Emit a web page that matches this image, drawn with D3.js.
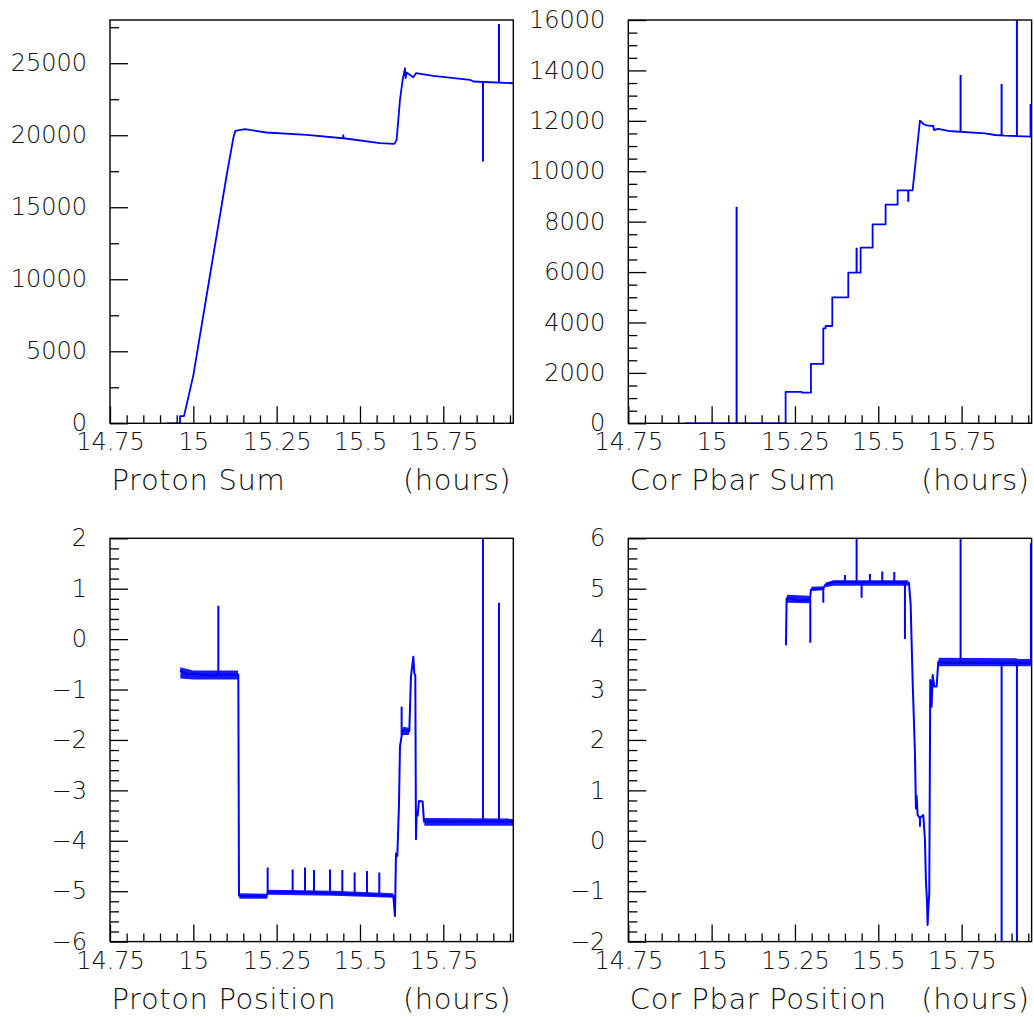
<!DOCTYPE html>
<html>
<head>
<meta charset="utf-8">
<script src="https://cdn.jsdelivr.net/npm/d3@7"></script>
<style>
  body { margin: 0; background: #fff; }
  svg text { font-family: 'DejaVu Sans', sans-serif; font-weight: 200; fill: #111; }
  .tick line { stroke: #000; stroke-width: 1.3; }
  .domain { display: none; }
</style>
</head>
<body>
<div id="chart"></div>
<script>
// data: [hours, value]
const xTicks = [14.75, 15, 15.25, 15.5, 15.75];
const titles = ['Proton Sum', 'Cor Pbar Sum', 'Proton Position', 'Cor Pbar Position'];

const protonSum = [
  [14.92, 0], [14.96, 0], [14.96, 500], [14.972, 500], [14.976, 900], [15.0, 3330],
  [15.012, 5000], [15.05, 10280], [15.1, 17220], [15.12, 19800], [15.126, 20300],
  [15.155, 20420], [15.22, 20190], [15.34, 20020], [15.449, 19790], [15.45, 20000],
  [15.451, 19790], [15.56, 19450], [15.603, 19400], [15.61, 19680], [15.62, 22450],
  [15.628, 23850], [15.635, 24650], [15.637, 23960], [15.64, 24350], [15.66, 24030],
  [15.668, 24310], [15.72, 24120], [15.83, 23850], [15.84, 23730], [15.96, 23610]
];
const protonSumSpikes = [[15.869, 23730, 18170], [15.917, 23650, 27730]];

const corPbarSum = [
  [14.92, 0], [15.222, 0], [15.222, 1243], [15.27, 1243], [15.271, 1216], [15.298, 1216],
  [15.298, 2354], [15.335, 2354], [15.335, 3769], [15.342, 3769], [15.342, 3860],
  [15.362, 3860], [15.362, 4998], [15.41, 4998], [15.41, 5977], [15.447, 5977],
  [15.447, 6968], [15.483, 6968], [15.483, 7894], [15.522, 7894], [15.522, 8674],
  [15.558, 8674], [15.558, 9243], [15.603, 9243], [15.625, 12006], [15.635, 11874],
  [15.645, 11821], [15.665, 11795], [15.667, 11636], [15.68, 11676], [15.71, 11597],
  [15.82, 11504], [15.85, 11438], [15.88, 11411], [15.96, 11372]
];
const corPbarSumSpikes = [
  [15.075, 0, 8595], [15.435, 5977, 6968], [15.59, 9243, 8793], [15.747, 11585, 13818],
  [15.87, 11420, 13461], [15.916, 11380, 16500], [15.957, 11372, 12667]
];

const protonPosition = [
  [14.96, -0.62], [14.98, -0.70], [15.0, -0.68], [15.05, -0.72], [15.1, -0.70],
  [15.135, -0.70], [15.137, -5.09], [15.22, -5.10], [15.223, -5.02], [15.3, -5.01],
  [15.42, -5.04], [15.52, -5.07], [15.6, -5.09], [15.605, -5.49], [15.608, -4.25],
  [15.612, -4.30], [15.617, -3.29], [15.62, -2.13], [15.628, -1.80], [15.648, -1.83],
  [15.653, -0.74], [15.66, -0.35], [15.663, -0.68], [15.666, -0.72], [15.668, -3.97],
  [15.67, -3.45], [15.673, -3.50], [15.677, -3.21], [15.688, -3.22], [15.692, -3.62],
  [15.96, -3.62]
];
const protonPositionSpikes = [
  [15.075, -0.70, 0.66], [15.223, -5.02, -4.53], [15.298, -5.01, -4.57],
  [15.335, -5.02, -4.53], [15.362, -5.03, -4.58], [15.41, -5.04, -4.57],
  [15.447, -5.05, -4.58], [15.484, -5.06, -4.63], [15.521, -5.07, -4.60],
  [15.558, -5.08, -4.63], [15.625, -1.90, -1.34], [15.869, -3.62, 2.3],
  [15.917, -3.62, 0.72]
];
// noisy plateaus: [hours, low, high]
const protonPositionNoise = [
  [[14.961, -0.78, -0.56], [15.0, -0.80, -0.62], [15.134, -0.80, -0.62]],
  [[15.138, -5.15, -5.04], [15.222, -5.15, -5.05]],
  [[15.224, -5.07, -4.97], [15.42, -5.09, -4.99], [15.6, -5.13, -5.04]],
  [[15.629, -1.90, -1.74], [15.647, -1.90, -1.76]],
  [[15.693, -3.70, -3.55], [15.96, -3.70, -3.56]]
];

const corPbarPosition = [
  [15.223, 3.88], [15.225, 4.81], [15.24, 4.80], [15.26, 4.76], [15.28, 4.77],
  [15.295, 4.78], [15.298, 4.98], [15.335, 5.0], [15.34, 5.07], [15.365, 5.14],
  [15.45, 5.13], [15.55, 5.13], [15.592, 5.12], [15.597, 4.71], [15.603, 3.19],
  [15.61, 1.74], [15.613, 0.64], [15.615, 0.89], [15.618, 0.51], [15.625, 0.45],
  [15.635, 0.51], [15.64, 0.02], [15.643, -0.81], [15.646, -1.17], [15.648, -1.67],
  [15.65, -1.37], [15.653, -1.04], [15.656, 3.19], [15.66, 2.66], [15.663, 3.29],
  [15.668, 3.06], [15.675, 3.06], [15.68, 3.55], [15.7, 3.53], [15.958, 3.53]
];
const corPbarPositionSpikes = [
  [15.296, 4.78, 3.93], [15.335, 5.0, 4.72], [15.40, 5.13, 5.27], [15.435, 5.13, 6.3],
  [15.45, 5.13, 4.82], [15.475, 5.13, 5.29], [15.512, 5.13, 5.34], [15.548, 5.13, 5.33],
  [15.58, 5.12, 4.0], [15.625, 0.48, 0.28], [15.747, 3.53, 6.3], [15.87, 3.53, -2.3],
  [15.916, 3.53, -2.3], [15.958, 3.53, 5.9]
];
const corPbarPositionNoise = [
  [[15.226, 4.72, 4.88], [15.294, 4.71, 4.86]],
  [[15.299, 4.96, 5.04], [15.334, 4.97, 5.05]],
  [[15.341, 5.03, 5.12], [15.366, 5.06, 5.17], [15.59, 5.06, 5.17]],
  [[15.681, 3.46, 3.63], [15.958, 3.46, 3.62]]
];

const yTicks = [
  [0, 5000, 10000, 15000, 20000, 25000],
  [0, 2000, 4000, 6000, 8000, 10000, 12000, 14000, 16000],
  [-6, -5, -4, -3, -2, -1, 0, 1, 2],
  [-2, -1, 0, 1, 2, 3, 4, 5, 6]
];

// chart setup
const W = 1034, H = 1017;
const size = 403.3;
const svg = d3.select('#chart').append('svg').attr('width', W).attr('height', H);

const panels = [
  { left: 110, top: 20, yDomain: [0, 28000], minor: 2500, series: protonSum, spikes: protonSumSpikes, noise: [], lw: 1.8 },
  { left: 628.3, top: 20, yDomain: [0, 16000], minor: 500, series: corPbarSum, spikes: corPbarSumSpikes, noise: [], lw: 1.8 },
  { left: 110, top: 538.3, yDomain: [-6, 2], minor: 0.2, series: protonPosition, spikes: protonPositionSpikes, noise: protonPositionNoise, lw: 2 },
  { left: 628.3, top: 538.3, yDomain: [-2, 6], minor: 0.2, series: corPbarPosition, spikes: corPbarPositionSpikes, noise: corPbarPositionNoise, lw: 2 }
];

const fmt = d => (d < 0 ? '\u2212' + Math.abs(d) : String(d));

panels.forEach((p, i) => drawPanel(p, i));

function drawPanel(p, i) {
  const x = d3.scaleLinear().domain([14.75, 15.96]).range([0, size]);
  const y = d3.scaleLinear().domain(p.yDomain).range([size, 0]);
  const g = svg.append('g').attr('transform', `translate(${p.left}, ${p.top})`);

  g.append('clipPath').attr('id', 'clip' + i)
    .append('rect').attr('width', size).attr('height', size);

  // minor ticks
  const xMinor = d3.range(14.8, 15.96, 0.05).filter(v => Math.abs(((v - 14.75) / 0.25) - Math.round((v - 14.75) / 0.25)) > 0.01);
  g.append('g').attr('transform', `translate(0, ${size})`)
    .call(d3.axisBottom(x).tickValues(xMinor).tickSizeInner(-8).tickSizeOuter(0).tickFormat(''));
  const [y0, y1] = p.yDomain;
  const yMinor = d3.range(y0, y1 + p.minor / 2, p.minor).filter(v => !yTicks[i].some(t => Math.abs(t - v) < p.minor / 10));
  g.append('g')
    .call(d3.axisLeft(y).tickValues(yMinor).tickSizeInner(-9).tickSizeOuter(0).tickFormat(''));

  // major ticks with labels
  g.append('g').attr('class', 'x-axis').attr('transform', `translate(0, ${size})`)
    .call(d3.axisBottom(x).tickValues(xTicks).tickSizeInner(-17).tickSizeOuter(0).tickPadding(10).tickFormat(d => d))
    .selectAll('text').style('font-size', '24px');
  g.append('g').attr('class', 'y-axis')
    .call(d3.axisLeft(y).tickValues(yTicks[i]).tickSizeInner(-18).tickSizeOuter(0).tickPadding(23).tickFormat(fmt))
    .selectAll('text').style('font-size', '24px');

  // data
  const plot = g.append('g').attr('clip-path', `url(#clip${i})`);
  plot.selectAll('path.noise')
    .data(p.noise)
    .enter().append('path')
    .attr('class', 'noise')
    .attr('fill', '#0000ff')
    .attr('fill-opacity', 0.9)
    .attr('d', d3.area().x(d => x(d[0])).y0(d => y(d[1])).y1(d => y(d[2])));
  plot.append('path')
    .datum(p.series)
    .attr('fill', 'none')
    .attr('stroke', '#0000ff')
    .attr('stroke-width', p.lw)
    .attr('stroke-linejoin', 'round')
    .attr('d', d3.line().x(d => x(d[0])).y(d => y(d[1])));
  plot.selectAll('line.spike')
    .data(p.spikes)
    .enter().append('line')
    .attr('class', 'spike')
    .attr('x1', d => x(d[0])).attr('x2', d => x(d[0]))
    .attr('y1', d => y(d[1])).attr('y2', d => y(d[2]))
    .attr('stroke', '#0000ff')
    .attr('stroke-width', 2);

  // frame
  g.append('rect').attr('width', size).attr('height', size)
    .attr('fill', 'none').attr('stroke', '#000').attr('stroke-width', 1.4);

  // titles
  g.append('text').attr('x', 1.5).attr('y', size + 67)
    .style('font-size', '29px').style('letter-spacing', '0.6px').text(titles[i]);
  g.append('text').attr('x', size - 2).attr('y', size + 67)
    .attr('text-anchor', 'end').style('font-size', '29px').style('letter-spacing', '0.6px').text('(hours)');
}
</script>
</body>
</html>
